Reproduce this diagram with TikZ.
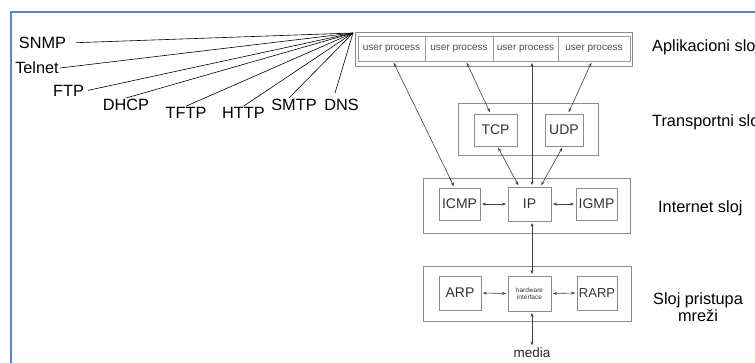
\documentclass[tikz,border=0pt]{standalone}
\usepackage{fontspec}
\setmainfont{Liberation Sans}
\usetikzlibrary{arrows.meta}

\begin{document}
\begin{tikzpicture}[x=1pt, y=-1pt,
  layerbox/.style={draw=black!45, line width=0.8pt, inner sep=0pt},
  protobox/.style={draw=black!45, line width=0.8pt, inner sep=0pt, text=black!80, font=\fontsize{14}{14}\selectfont},
  usercell/.style={draw=black!40, line width=0.6pt, inner sep=0pt, minimum height=25, text=black!70, font=\fontsize{10}{10}\selectfont},
  proto/.style={inner sep=1pt, font=\fontsize{16.3}{16}\selectfont},
  layername/.style={anchor=west, inner sep=0pt, align=center, font=\fontsize{16.3}{16.5}\selectfont},
  feed/.style={black, line width=0.6pt},
  arr/.style={{Stealth[length=4pt,width=3pt]}-{Stealth[length=4pt,width=3pt]}, black!75, line width=0.6pt, shorten <=1.5pt, shorten >=1.5pt}
]
\clip (0,0) rectangle (755,363);
\fill[white] (0,0) rectangle (755,363);
\fill[yellow!2] (13,357) rectangle (755,363);
\draw[line width=2pt, draw={rgb,255:red,91;green,133;blue,198}] (11,12) rectangle (800,420);

% application layer
\node[layerbox, minimum width=277, minimum height=34] (appl) at (493.5,49) {};
\node[usercell, minimum width=67] (up1) at (391.5,48.5) {user process};
\node[usercell, minimum width=68] (up2) at (459,48.5) {user process};
\node[usercell, minimum width=65] (up3) at (525.5,48.5) {user process};
\node[usercell, minimum width=72] (up4) at (594,48.5) {user process};

% transport layer
\node[layerbox, minimum width=140, minimum height=52] (transp) at (528,129) {};
\node[protobox, minimum width=43, minimum height=32] (tcp) at (495.5,130) {TCP};
\node[protobox, minimum width=38, minimum height=32] (udp) at (564,130) {UDP};

% internet layer
\node[layerbox, minimum width=207, minimum height=55] (inet) at (526.5,205.5) {};
\node[protobox, minimum width=41, minimum height=32] (icmp) at (459.5,204) {ICMP};
\node[protobox, minimum width=43, minimum height=34] (ip) at (529.5,204) {IP};
\node[protobox, minimum width=41, minimum height=32] (igmp) at (596.5,204) {IGMP};

% network access layer
\node[layerbox, minimum width=208, minimum height=55] (netacc) at (527,293.5) {};
\node[protobox, minimum width=42, minimum height=34] (arp) at (460,293) {ARP};
\node[protobox, minimum width=43, minimum height=35, align=center, font=\fontsize{6.5}{7}\selectfont] (hwif) at (529.5,293.5) {hardware\\interface};
\node[protobox, minimum width=40, minimum height=34, font=\fontsize{13}{13}\selectfont] (rarp) at (597,293) {RARP};
\node[inner sep=1pt, text=black!85, font=\fontsize{13.5}{13.5}\selectfont] (media) at (532,353) {media};

% arrows between the layers
\draw[arr] ([xshift=1.5pt]up1.south) -- ([xshift=-5pt]icmp.north);
\draw[arr] ([xshift=7pt]up2.south) -- ([xshift=-5pt]tcp.north);
\draw[arr] ([xshift=6.5pt]up3.south) -- ([xshift=2.5pt]ip.north);
\draw[arr] ([xshift=-2pt]up4.south) -- ([xshift=4pt]udp.north);
\draw[arr] ([xshift=2pt]tcp.south) -- ([xshift=-10.5pt]ip.north);
\draw[arr] ([xshift=-1pt]udp.south) -- ([xshift=11pt]ip.north);
\draw[arr] (icmp.east) -- (ip.west);
\draw[arr] (ip.east) -- (igmp.west);
\draw[arr] ([xshift=2.5pt]ip.south) -- ([xshift=2.5pt]hwif.north);
\draw[arr] (arp.east) -- (hwif.west);
\draw[arr] (hwif.east) -- (rarp.west);
\draw[arr] ([xshift=2.5pt]hwif.south) -- (media.north);

% application protocols
\coordinate (hub) at (353,33);
\node[proto] (snmp) at (42.5,43) {SNMP};
\node[proto] (telnet) at (37,68) {Telnet};
\node[proto] (ftp) at (68.5,91) {FTP};
\node[proto] (dhcp) at (126,105) {DHCP};
\node[proto] (tftp) at (186,113) {TFTP};
\node[proto] (http) at (243.5,113) {HTTP};
\node[proto] (smtp) at (294,105) {SMTP};
\node[proto] (dns) at (341.5,105) {DNS};
\draw[feed, shorten <=9pt] (snmp.east) -- (hub);
\draw[feed] (telnet.east) -- (hub);
\draw[feed, shorten <=3pt] (ftp.east) -- (hub);
\draw[feed] (dhcp.north) -- (hub);
\draw[feed] (tftp.north) -- (hub);
\draw[feed] (http.north) -- (hub);
\draw[feed] ([xshift=-5pt]smtp.north) -- (hub);
\draw[feed, shorten <=5pt] ([xshift=-8pt]dns.north) -- (hub);

% layer names
\node[layername] (appname) at (652,47) {Aplikacioni sloj};
\node[layername] (trname) at (652,122) {Transportni sloj};
\node[layername] (inname) at (658,208) {Internet sloj};
\node[layername] (naname) at (653,307) {Sloj pristupa\\mreži};
\end{tikzpicture}
\end{document}
